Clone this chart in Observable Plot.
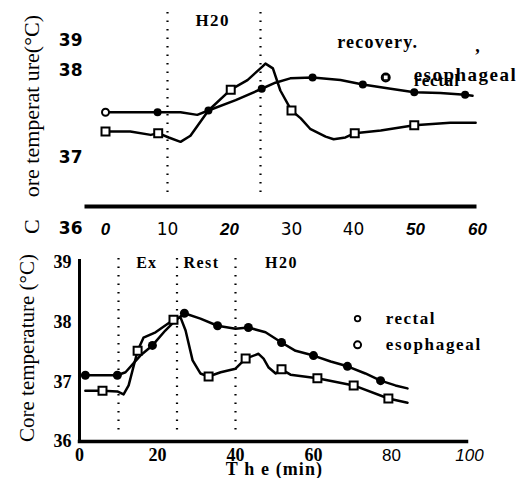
<!DOCTYPE html>
<html><head><meta charset="utf-8">
<script src="https://cdn.jsdelivr.net/npm/d3@7"></script>
<script src="https://cdn.jsdelivr.net/npm/@observablehq/plot@0.6"></script>
<style>
html,body{margin:0;padding:0;background:#fff}
body{width:516px;height:478px;overflow:hidden;position:relative}
#top,#bot{position:absolute;left:0}
#top{top:0}
#bot{top:240px}
svg{overflow:visible;display:block}
</style></head><body><div id="top"></div><div id="bot"></div>
<script>
// ---------- data: top panel ----------
const topRectalT = [0, 8.4, 12.1, 14.8, 16.6, 21, 25.2, 27.4, 29.8, 33.4, 37.9, 41.5, 46, 49.8, 54, 58, 59.2];
const topRectalV = [37.52, 37.52, 37.52, 37.49, 37.54, 37.66, 37.79, 37.86, 37.91, 37.92, 37.89, 37.84, 37.79, 37.75, 37.74, 37.72, 37.71];
const topRectalMarks = [8.4, 16.6, 25.2, 33.4, 41.5, 49.8, 58];
const topRectalOpen = [0];
const topEsoT = [0, 4, 7.3, 8.5, 10.2, 12.1, 13.7, 16.6, 20.2, 22.9, 25.3, 25.8, 27, 28.2, 30, 31.5, 33, 35.5, 36.8, 38.7, 40.2, 44.4, 49.8, 55.6, 59.7];
const topEsoV = [37.30, 37.30, 37.26, 37.28, 37.23, 37.18, 37.25, 37.54, 37.78, 37.89, 38.13, 38.23, 38.07, 37.77, 37.54, 37.45, 37.33, 37.24, 37.21, 37.23, 37.28, 37.31, 37.37, 37.40, 37.40];
const topEsoMarks = [0, 8.5, 20.2, 30, 40.2, 49.8];
const topPhases = [10, 25];
const topYTicks = [36, 37, 38, 39];
const topXTicksItalic = [0, 20, 50, 60];
const topXTicksPlain = [10, 30, 40];
const topYTitle = "C\u00a0\u00a0\u00a0 ore temperat ure(\u00b0C)";
const topPhaseLabel = "H20";
const topNote = "recovery.";
const topSeries = ["rectal", "esophageal"];

// ---------- data: bottom panel ----------
const botRectalT = [1.5, 9.7, 11.8, 15.6, 18.7, 22, 24.6, 26.9, 31, 35.4, 40, 43.3, 47.7, 51.8, 55.4, 60, 64.4, 68.7, 73.3, 77.2, 81, 84.1];
const botRectalV = [37.11, 37.11, 37.16, 37.44, 37.61, 37.86, 38.03, 38.15, 38.06, 37.94, 37.89, 37.91, 37.83, 37.66, 37.52, 37.44, 37.34, 37.26, 37.14, 37.02, 36.94, 36.89];
const botRectalMarks = [1.5, 9.7, 18.7, 26.9, 35.4, 43.3, 51.8, 60, 68.7, 77.2];
const botEsoT = [1.5, 5.9, 9.7, 11.3, 12.6, 14.9, 16.4, 19.5, 24.1, 25.9, 27.2, 29, 31, 33.1, 36.2, 40, 42.6, 45.9, 47.2, 48.5, 50.3, 51.8, 54.1, 61, 70.3, 79.2, 84.1];
const botEsoV = [36.85, 36.85, 36.84, 36.79, 36.94, 37.52, 37.74, 37.83, 38.04, 38.08, 37.86, 37.36, 37.14, 37.09, 37.16, 37.22, 37.39, 37.47, 37.39, 37.24, 37.14, 37.21, 37.12, 37.06, 36.94, 36.72, 36.65];
const botEsoMarks = [5.9, 14.9, 24.1, 33.1, 42.6, 51.8, 61, 70.3, 79.2];
const botPhases = [10, 25, 40];
const botPhaseLabels = ["Ex", "Rest", "H20"];
const botPhaseLabelT = [17.2, 31.3, 51.8];
const botYTicks = [36, 37, 38, 39];
const botXTicksSerif = [0, 20, 40, 60];
const botXTicksSans = [80];
const botXTicksItalic = [100];
const botYTitle = "Core temperature (\u00b0C)";
const botXTitle = "T h e (min)";
const botSeries = ["rectal", "esophageal"];

// ---------- helpers ----------
const rows = (T, V) => T.map((t, i) => ({t, v: V[i]}));
const pick = (T, V, M) => M.map(m => ({t: m, v: V[T.indexOf(m)]}));
const serif = "Liberation Serif, Times New Roman, serif";
const sans = "Liberation Sans, Arial, sans-serif";
const djv = "DejaVu Sans, sans-serif";
// the scanned top axis is unevenly spaced: piecewise-linear scale through its printed ticks
const topPiece = d3.scaleLinear(topYTicks, [0, 71, 158, 188]);
const mid = {lineAnchor: "middle", textAnchor: "middle"};
// letter spacing for the scanned, widely set bold lettering
function spacing(svg, map) {
  d3.select(svg).selectAll("text").each(function () {
    const k = this.textContent;
    if (map[k] !== undefined) this.setAttribute("letter-spacing", map[k]);
  });
}

// ---------- top panel ----------
const topPlot = Plot.plot({
  width: 516, height: 240,
  marginLeft: 105, marginRight: 39, marginTop: 12, marginBottom: 34,
  x: {domain: [0, 60], label: null},
  y: {transform: topPiece, domain: [22, 216], label: null},
  style: {background: "transparent", color: "#000", overflow: "visible"},
  marks: [
    Plot.ruleX(topPhases, {stroke: "#000", strokeWidth: 2.2, strokeDasharray: "1.5,7", insetBottom: 14}),
    Plot.frame({anchor: "bottom", stroke: "#000", strokeWidth: 4, insetLeft: -19, insetRight: 3}),
    Plot.axisY(topYTicks, {tickSize: 0, tickPadding: 23, fontSize: 17, fontWeight: "bold", fontFamily: djv, tickFormat: d => String(d), label: null}),
    Plot.axisX(topXTicksItalic, {tickSize: 0, tickPadding: 16, fontSize: 17, fontStyle: "italic", fontWeight: "bold", fontFamily: sans, label: null}),
    Plot.axisX(topXTicksPlain, {tickSize: 0, tickPadding: 16, fontSize: 17, fontFamily: djv, label: null}),
    Plot.line(rows(topRectalT, topRectalV), {x: "t", y: "v", stroke: "#000", strokeWidth: 2.5}),
    Plot.line(rows(topEsoT, topEsoV), {x: "t", y: "v", stroke: "#000", strokeWidth: 2.5}),
    Plot.dot(pick(topRectalT, topRectalV, topRectalMarks), {x: "t", y: "v", r: 4, fill: "#000"}),
    Plot.dot(pick(topRectalT, topRectalV, topRectalOpen), {x: "t", y: "v", r: 3.5, fill: "#fff", stroke: "#000", strokeWidth: 2}),
    Plot.dot(pick(topEsoT, topEsoV, topEsoMarks), {x: "t", y: "v", symbol: "square", r: 4.5, fill: "#fff", stroke: "#000", strokeWidth: 2}),
    Plot.text([topYTitle], {frameAnchor: "left", rotate: -90, dx: -74, dy: 15, ...mid, fontSize: 22, fontFamily: serif}),
    Plot.text([topPhaseLabel], {x: [17.3], frameAnchor: "top", dy: 8, ...mid, fontSize: 17, fontWeight: "bold", fontFamily: serif}),
    Plot.text([topNote], {x: [43.9], frameAnchor: "top", dy: 30, ...mid, fontSize: 18, fontWeight: "bold", fontFamily: serif}),
    Plot.text([","], {x: [60], frameAnchor: "top", dy: 34, ...mid, fontSize: 18, fontWeight: "bold", fontFamily: serif}),
    Plot.dot([{t: 45.2, v: 37.92}], {x: "t", y: "v", r: 4, fill: "none", stroke: "#000", strokeWidth: 2}),
    Plot.dot([{t: 45.2, v: 37.92}], {x: "t", y: "v", symbol: "square", r: 3, fill: "none", stroke: "#000", strokeWidth: 1.5}),
    Plot.text([topSeries[1]], {x: [49.7], y: [37.95], textAnchor: "start", fontSize: 19, fontWeight: "bold", fontFamily: serif}),
    Plot.text([topSeries[0]], {x: [49.7], y: [37.89], textAnchor: "start", fontSize: 17, fontWeight: "bold", fontFamily: serif})
  ]
});
spacing(topPlot, {"H20": "1.5", "recovery.": "1.2", "esophageal": "1.5", "rectal": "0.8"});
document.getElementById("top").appendChild(topPlot);

// ---------- bottom panel ----------
const botPlot = Plot.plot({
  width: 516, height: 238,
  marginLeft: 79, marginRight: 47, marginTop: 22, marginBottom: 37,
  x: {domain: [0, 100], label: null},
  y: {domain: [36, 39], label: null},
  style: {background: "transparent", color: "#000", overflow: "visible"},
  marks: [
    Plot.ruleX(botPhases, {stroke: "#000", strokeWidth: 2.2, strokeDasharray: "1.5,7", insetTop: -4, insetBottom: 9}),
    Plot.frame({anchor: "bottom", stroke: "#000", strokeWidth: 3.5, insetRight: 3}),
    Plot.frame({anchor: "left", stroke: "#000", strokeWidth: 3, insetTop: -2}),
    Plot.axisY(botYTicks, {tickSize: 0, tickPadding: 8, fontSize: 18, fontWeight: "bold", fontFamily: serif, tickFormat: d => String(d), label: null}),
    Plot.axisX(botXTicksSerif, {tickSize: 0, tickPadding: 7, fontSize: 18, fontWeight: "bold", fontFamily: serif, label: null}),
    Plot.axisX(botXTicksSans, {tickSize: 0, tickPadding: 7, fontSize: 17, fontFamily: sans, label: null}),
    Plot.axisX(botXTicksItalic, {tickSize: 0, tickPadding: 7, fontSize: 17, fontStyle: "italic", fontFamily: sans, label: null}),
    Plot.line(rows(botRectalT, botRectalV), {x: "t", y: "v", stroke: "#000", strokeWidth: 2.5}),
    Plot.line(rows(botEsoT, botEsoV), {x: "t", y: "v", stroke: "#000", strokeWidth: 2.5}),
    Plot.dot(pick(botRectalT, botRectalV, botRectalMarks), {x: "t", y: "v", r: 4.5, fill: "#000"}),
    Plot.dot(pick(botEsoT, botEsoV, botEsoMarks), {x: "t", y: "v", symbol: "square", r: 4.5, fill: "#fff", stroke: "#000", strokeWidth: 2}),
    Plot.text([botYTitle], {frameAnchor: "left", rotate: -90, dx: -52, dy: -4, ...mid, fontSize: 21, fontFamily: serif}),
    Plot.text(botPhaseLabels, {x: botPhaseLabelT, frameAnchor: "top", dy: 0, ...mid, fontSize: 16, fontWeight: "bold", fontFamily: serif}),
    Plot.dot([{t: 71.3, v: 38.06}], {x: "t", y: "v", r: 2.8, fill: "none", stroke: "#000", strokeWidth: 1.8}),
    Plot.dot([{t: 71.3, v: 37.62}], {x: "t", y: "v", r: 3.5, fill: "none", stroke: "#000", strokeWidth: 2}),
    Plot.text([botSeries[0]], {x: [78.5], y: [38.06], textAnchor: "start", fontSize: 17, fontWeight: "bold", fontFamily: serif}),
    Plot.text([botSeries[1]], {x: [78.5], y: [37.62], textAnchor: "start", fontSize: 17, fontWeight: "bold", fontFamily: serif}),
    Plot.text([botXTitle], {x: [50], frameAnchor: "bottom", dy: 28, ...mid, fontSize: 18, fontWeight: "bold", fontFamily: serif})
  ]
});
spacing(botPlot, {"Ex": "1", "Rest": "1.5", "H20": "1.5", "rectal": "1.5", "esophageal": "1.7", "T h e (min)": "1.1"});
document.getElementById("bot").appendChild(botPlot);
</script>
</body></html>
